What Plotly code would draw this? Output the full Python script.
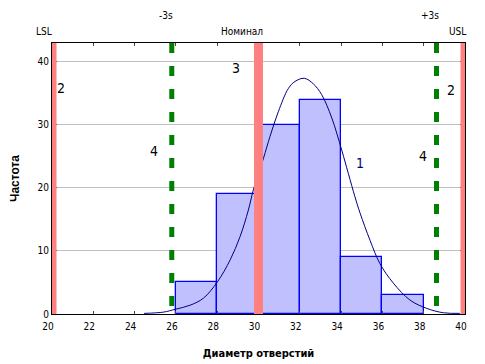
import plotly.graph_objects as go

# Histogram data
bin_centers = [27, 29, 31, 33, 35, 37]
counts = [5, 19, 30, 34, 9, 3]
bin_width = 2

# Fitted normal curve
curve_x = [24.46, 25.4, 25.97, 26.69, 27.33, 28.01, 28.63, 29.11, 29.51, 29.75,
           30.24, 30.56, 30.96, 31.45, 31.77, 32.22, 32.66, 33.06, 33.55, 34.03,
           34.35, 34.67, 34.92, 35.40, 35.88, 36.53, 37.34, 38.14, 38.95, 39.75]
curve_y = [0.1, 0.3, 0.75, 1.4, 2.5, 5.1, 8.6, 12.3, 16.5, 19.7,
           24.7, 28.2, 32.1, 35.8, 36.9, 37.4, 36.5, 34.8, 31.1, 26.0,
           22.3, 18.6, 16.0, 11.7, 8.0, 4.9, 2.2, 0.9, 0.2, 0.1]

# Reference lines
LSL, NOMINAL, USL = 20, 30, 40
minus3s, plus3s = 25.80, 38.62

x_ticks = [20, 22, 24, 26, 28, 30, 32, 34, 36, 38, 40]
y_ticks = [0, 10, 20, 30, 40]

NARROW = "DejaVu Sans Condensed, Liberation Sans Narrow, sans-serif"

fig = go.Figure()
fig.add_trace(go.Bar(x=bin_centers, y=counts, width=bin_width,
                     marker=dict(color="#C0C0FF", line=dict(color="#0000FF", width=1.3)),
                     showlegend=False))
fig.add_trace(go.Scatter(x=curve_x, y=curve_y, mode="lines", line_shape="spline",
                         line=dict(color="#000080", width=1), showlegend=False))

half = 0.218
for xc in [LSL, NOMINAL, USL]:
    fig.add_shape(type="rect", xref="x", yref="y", x0=xc - half, x1=xc + half,
                  y0=0, y1=43, fillcolor="#FF8080", line=dict(width=0), layer="above")
for xc in [minus3s, plus3s]:
    fig.add_shape(type="line", xref="x", yref="y", x0=xc, x1=xc, y0=43, y1=0,
                  line=dict(color="#008000", width=5, dash="10px,13px"), layer="above")

# Top labels (paper coordinates)
top_labels = [("LSL", -0.019, 1.044), ("-3s", 0.276, 1.103), ("Номинал", 0.460, 1.044),
              ("+3s", 0.915, 1.103), ("USL", 0.982, 1.044)]
for txt, xp, yp in top_labels:
    fig.add_annotation(x=xp, y=yp, xref="paper", yref="paper", text=txt, showarrow=False,
                       xanchor="center", yanchor="middle",
                       font=dict(family=NARROW, size=10, color="black"))

# Numbered labels inside
inner = [("2", 20.45, 35.9, "black"), ("3", 28.9, 39.0, "black"), ("4", 24.96, 25.9, "black"),
         ("1", 34.92, 24.0, "#000080"), ("4", 37.98, 25.1, "black"), ("2", 39.32, 35.6, "black")]
for txt, xv, yv, col in inner:
    fig.add_annotation(x=xv, y=yv, text=txt, showarrow=False,
                       font=dict(family=NARROW, size=14, color=col))

fig.update_layout(
    width=477, height=356,
    margin=dict(l=44, r=20, t=35, b=50),
    plot_bgcolor="white", paper_bgcolor="white",
    bargap=0,
    xaxis=dict(range=[20, 40], tickvals=x_ticks, ticks="inside", ticklen=3,
               showline=True, linecolor="black", linewidth=1, mirror="allticks",
               showgrid=False, zeroline=False, ticklabelshift=-4, ticklabelstandoff=3,
               automargin=False,
               tickfont=dict(family=NARROW, size=10, color="black"),
               title=dict(text="<b>Диаметр отверстий</b>", standoff=18,
                          font=dict(family=NARROW, size=11, color="black"))),
    yaxis=dict(range=[0, 43], tickvals=y_ticks, ticks="inside", ticklen=5,
               showline=True, linecolor="black", linewidth=1, mirror="allticks",
               showgrid=True, gridcolor="#C0C0C0", gridwidth=1, zeroline=False,
               automargin=False,
               minor=dict(dtick=2, ticks="inside", ticklen=3, tickcolor="black", showgrid=False),
               tickfont=dict(family=NARROW, size=10, color="black"),
               title=dict(text="<b>Частота</b>", standoff=16,
                          font=dict(family="Liberation Sans, Arial, sans-serif", size=12, color="black"))),
)

fig.write_html("out.html")
